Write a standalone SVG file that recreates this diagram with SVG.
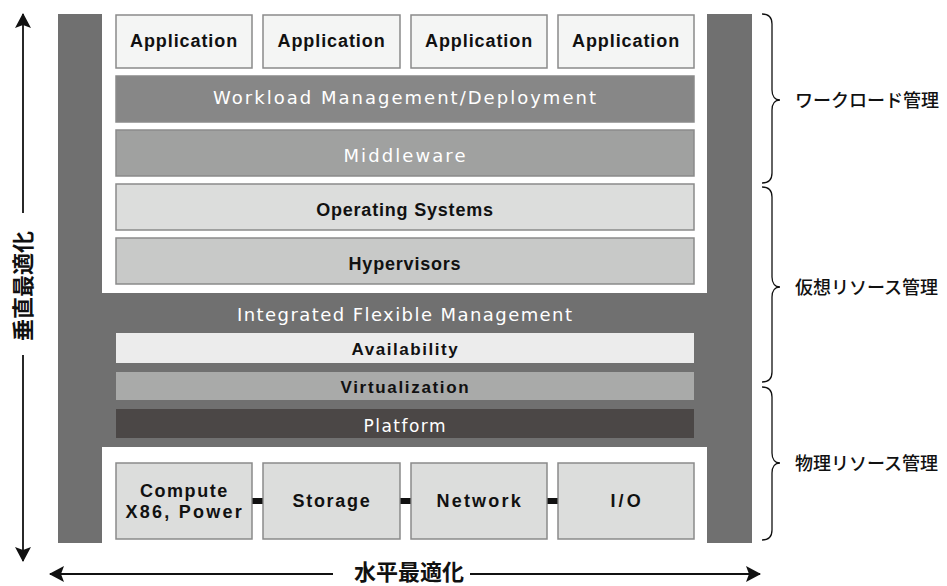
<svg xmlns="http://www.w3.org/2000/svg" width="947" height="586" viewBox="0 0 947 586">
<style>
.box{stroke:#8a8a8a;stroke-width:1.5}
.bt{font-family:"Liberation Sans",Arial,sans-serif;font-weight:bold;font-size:18px;fill:#111;text-anchor:middle;letter-spacing:0.8px}
.wt{font-family:"DejaVu Sans","Liberation Sans",sans-serif;font-size:18px;fill:#fff;text-anchor:middle;letter-spacing:1px}
.sm{font-size:17px}
.jp{font-family:"Noto Sans CJK JP",sans-serif;font-size:18px;font-weight:500;fill:#111}
.big{font-family:"Noto Sans CJK JP",sans-serif;font-size:22px;font-weight:bold;fill:#111;text-anchor:middle}
.ln{stroke:#111;stroke-width:1.8;fill:none}
.br{stroke:#111;stroke-width:1.3;fill:none}
</style>
<defs>
<marker id="ah" markerWidth="15" markerHeight="16" refX="14" refY="8" orient="auto" markerUnits="userSpaceOnUse">
<path d="M0,0 L15,8 L0,16 L3,8 Z" fill="#111"/>
</marker>
</defs>
<rect width="947" height="586" fill="#fff"/>

<g id="frame">
<rect x="58" y="14" width="694" height="529" fill="#707070"/>
<rect x="102" y="14" width="605" height="279" fill="#fff"/>
<rect x="102" y="447" width="605" height="96" fill="#fff"/>
</g>

<g id="app1"><rect class="box" x="116" y="15" width="136" height="53" fill="#f4f5f4"/><text class="bt" x="184" y="47" textLength="108">Application</text></g>
<g id="app2"><rect class="box" x="263" y="15" width="137" height="53" fill="#f4f5f4"/><text class="bt" x="331.5" y="47" textLength="108">Application</text></g>
<g id="app3"><rect class="box" x="411" y="15" width="136" height="53" fill="#f4f5f4"/><text class="bt" x="479" y="47" textLength="108">Application</text></g>
<g id="app4"><rect class="box" x="558" y="15" width="136" height="53" fill="#f4f5f4"/><text class="bt" x="626" y="47" textLength="108">Application</text></g>

<g id="workload"><rect class="box" x="116" y="76" width="578" height="46" fill="#878787" stroke="#7a7a7a"/><text class="wt" x="405" y="104" textLength="384">Workload Management/Deployment</text></g>
<g id="middleware"><rect class="box" x="116" y="130" width="578" height="46" fill="#a0a1a0"/><text class="wt" x="405" y="162" textLength="123">Middleware</text></g>
<g id="os"><rect class="box" x="116" y="184" width="578" height="46" fill="#dcdddc"/><text class="bt" x="405" y="216">Operating Systems</text></g>
<g id="hypervisors"><rect class="box" x="116" y="238" width="578" height="46" fill="#c8c9c8"/><text class="bt" x="405" y="270">Hypervisors</text></g>

<g id="ifm"><text class="wt" x="405" y="321" textLength="336">Integrated Flexible Management</text></g>
<g id="availability"><rect x="116" y="333" width="578" height="30" fill="#ececec"/><text class="bt sm" x="405" y="355" textLength="107">Availability</text></g>
<g id="virtualization"><rect x="116" y="372" width="578" height="28" fill="#a9aaa9"/><text class="bt sm" x="405" y="393" textLength="129">Virtualization</text></g>
<g id="platform"><rect x="116" y="409" width="578" height="29" fill="#4b4746"/><text class="wt sm" x="405" y="432" textLength="83">Platform</text></g>

<g id="compute"><rect class="box" x="116" y="463" width="136" height="76" fill="#dcdddc"/><text class="bt" x="184" y="497" textLength="88">Compute</text><text class="bt" x="184" y="518" textLength="117">X86, Power</text></g>
<g id="storage"><rect class="box" x="263" y="463" width="137" height="76" fill="#dcdddc"/><text class="bt" x="331.5" y="507" textLength="78">Storage</text></g>
<g id="network"><rect class="box" x="411" y="463" width="136" height="76" fill="#dcdddc"/><text class="bt" x="479" y="507" textLength="85">Network</text></g>
<g id="io"><rect class="box" x="558" y="463" width="136" height="76" fill="#dcdddc"/><text class="bt" x="626" y="507" textLength="31">I/O</text></g>

<g id="connectors" fill="#111">
<rect x="252.5" y="498" width="10" height="6"/>
<rect x="400.5" y="498" width="10" height="6"/>
<rect x="547.5" y="498" width="10" height="6"/>
</g>

<g id="vertical-axis">
<line class="ln" x1="23" y1="213" x2="23" y2="14" marker-end="url(#ah)"/>
<line class="ln" x1="23" y1="355" x2="23" y2="561" marker-end="url(#ah)"/>
<text class="big" transform="translate(31,286) rotate(-90)">垂直最適化</text>
</g>
<g id="horizontal-axis">
<line class="ln" x1="333" y1="574" x2="50" y2="574" marker-end="url(#ah)"/>
<line class="ln" x1="470" y1="574" x2="760" y2="574" marker-end="url(#ah)"/>
<text class="big" x="409" y="580" font-size="21">水平最適化</text>
</g>

<g id="brace-workload">
<path class="br" d="M762,14 C768,14 772,17 772,24 L772,90 C772,96 775,100 780,100 C775,100 772,104 772,110 L772,173 C772,180 768,183 762,183"/>
<text class="jp" x="795" y="107">ワークロード管理</text>
</g>
<g id="brace-virtual">
<path class="br" d="M762,187 C768,187 772,190 772,197 L772,277 C772,283 775,287 780,287 C775,287 772,291 772,297 L772,372 C772,379 768,382 762,382"/>
<text class="jp" x="795" y="294">仮想リソース管理</text>
</g>
<g id="brace-physical">
<path class="br" d="M762,387 C768,387 772,390 772,397 L772,453 C772,459 775,463 780,463 C775,463 772,467 772,473 L772,530 C772,537 768,540 762,540"/>
<text class="jp" x="795" y="470">物理リソース管理</text>
</g>
</svg>
